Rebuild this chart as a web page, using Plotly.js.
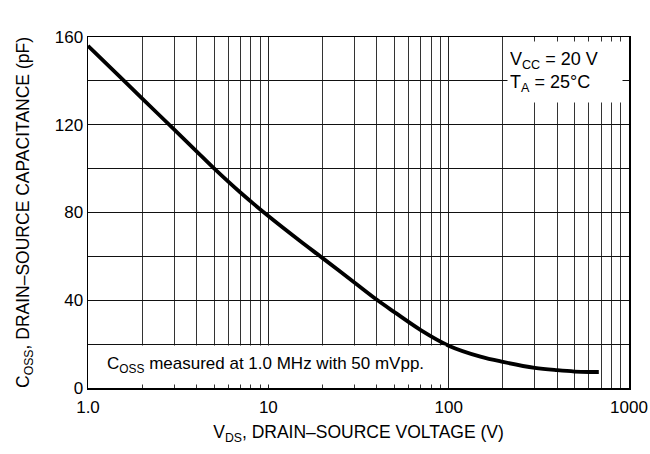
<!DOCTYPE html>
<html>
<head>
<meta charset="utf-8">
<script src="https://cdn.plot.ly/plotly-3.0.1.min.js"></script>
<style>html,body{margin:0;padding:0;background:#fff;}#chart{width:650px;height:454px;}</style>
</head>
<body>
<div id="chart"></div>
<script>
// Data
const vds  = [1, 1.5, 2, 3, 4, 5, 7, 10, 15, 20, 30, 40, 50, 70, 100, 150, 200, 300, 400, 500, 600, 680];
const coss = [156, 141.9, 131.9, 117.9, 107.9, 100.1, 89.1, 78.4, 67.0, 59.2, 48.1, 40.2, 34.6, 26.4, 19.3, 14.3, 11.9, 9.2, 8.1, 7.5, 7.3, 7.3];

const xMajorVals = [1, 10, 100, 1000];
const xMajorText = ['1.0', '10', '100', '1000'];
const xMinorVals = [2,3,4,5,6,7,8,9,20,30,40,50,60,70,80,90,200,300,400,500,600,700,800,900];
const yMajorVals = [0, 40, 80, 120, 160];
const yMinorVals = [20, 60, 100, 140];

const FONT = 'Liberation Sans Narrow, Arial Narrow, Liberation Sans, Arial, sans-serif';

const trace = {
  x: vds, y: coss, type: 'scatter', mode: 'lines',
  line: {color: '#000', width: 3.8, shape: 'spline', smoothing: 1},
  hoverinfo: 'skip'
};

const layout = {
  width: 650, height: 454,
  margin: {l: 87.5, r: 20.5, t: 37, b: 66, pad: 0},
  paper_bgcolor: '#fff', plot_bgcolor: '#fff',
  showlegend: false,
  font: {family: FONT, color: '#000', size: 17},
  xaxis: {
    type: 'log', range: [0, 3],
    tickmode: 'array', tickvals: xMajorVals, ticktext: xMajorText,
    ticks: '', showgrid: true, gridcolor: '#222', gridwidth: 1,
    minor: {tickmode: 'array', tickvals: xMinorVals, showgrid: true, gridcolor: '#333', gridwidth: 1, ticks: ''},
    showline: true, linecolor: '#000', linewidth: 1.5, mirror: true,
    zeroline: false, tickfont: {size: 17, family: FONT}, ticklabelstandoff: 3,
    title: {text: 'V<sub>DS</sub>, DRAIN\u2013SOURCE VOLTAGE (V)', font: {size: 17.5, family: FONT}, standoff: 10}
  },
  yaxis: {
    range: [0, 160],
    tickmode: 'array', tickvals: yMajorVals,
    ticks: '', showgrid: true, gridcolor: '#111', gridwidth: 1,
    minor: {tickmode: 'array', tickvals: yMinorVals, showgrid: true, gridcolor: '#111', gridwidth: 1, ticks: ''},
    showline: true, linecolor: '#000', linewidth: 1.5, mirror: true,
    zeroline: false, tickfont: {size: 17, family: FONT},
    title: {text: 'C<sub>OSS</sub>, DRAIN\u2013SOURCE CAPACITANCE (pF)', font: {size: 17.5, family: FONT}, standoff: 20}
  },
  annotations: [
    {
      xref: 'paper', yref: 'paper', x: 0.030, y: 0.009, xanchor: 'left', yanchor: 'bottom',
      text: 'C<sub>OSS</sub> measured at 1.0 MHz with 50 mVpp.',
      showarrow: false, align: 'left', bgcolor: '#fff', width: 336, height: 34, borderpad: 2,
      font: {size: 17, family: FONT}
    },
    {
      xref: 'paper', yref: 'paper', x: 0.774, y: 0.99, xanchor: 'left', yanchor: 'top',
      text: 'V<sub>CC</sub> = 20 V<br>T<sub>A</sub> = 25°C',
      showarrow: false, align: 'left', bgcolor: '#fff', width: 110, height: 56, borderpad: 2,
      font: {size: 18, family: FONT}
    }
  ]
};

Plotly.newPlot('chart', [trace], layout, {staticPlot: true, displayModeBar: false});
</script>
</body>
</html>
